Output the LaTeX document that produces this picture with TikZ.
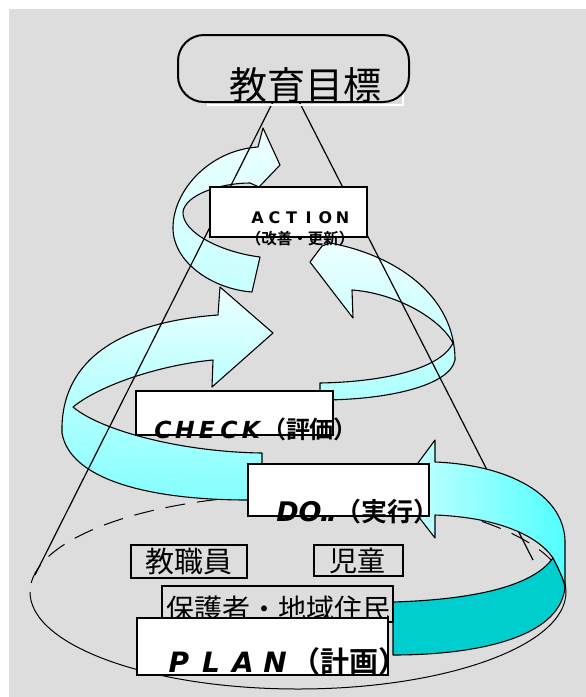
\documentclass[tikz,border=0pt]{standalone}
\usepackage{fontspec}
\newfontfamily\jp{Noto Sans CJK JP}
\newfontfamily\jpb{Noto Sans CJK JP Bold}
\newfontfamily\lat{DejaVu Sans}
\newcommand\cbx[2]{\makebox[#1][c]{#2}}
\definecolor{bggrey}{RGB}{221,221,221}
\definecolor{teal2}{RGB}{0,206,206}
\begin{document}
\begin{tikzpicture}[x=1pt,y=-1pt,
  band/.style={draw=black, line width=1.1pt, line join=round},
  wbox/.style={draw=black, line width=2.2pt, fill=white, inner sep=0pt},
  gbox/.style={draw=black, line width=1.4pt, inner sep=0pt},
  lbl/.style={inner sep=0pt, font=\jp},
  conel/.style={line width=1.2pt}]
\useasboundingbox (0,0) rectangle (586,697);
\fill[bggrey] (9,9) rectangle (586,697);

% base ellipse
\coordinate (ell) at (298,592);
\draw[line width=1pt] (30,592) arc[start angle=180, end angle=360, x radius=268pt, y radius=97pt];
\draw[line width=1pt, dash pattern=on 20pt off 12pt] (566,592) arc[start angle=0, end angle=180, x radius=268pt, y radius=97pt];

% band 1 (top hook, ACTION)
\path[band, top color=cyan!7, bottom color=cyan!22]
  (258,147) -- (263,128) -- (280,165) -- (259,187) -- (250,183)
  .. controls (220,183) and (185,195) .. (183,212)
  .. controls (182,232) and (220,252) .. (260,257)
  -- (252,292)
  .. controls (212,289) and (173,262) .. (173,228)
  .. controls (173,190) and (210,150) .. (258,147) -- cycle;

% band 2 (right loop under ACTION)
\path[band, top color=cyan!7, bottom color=cyan!32]
  (330,243) -- (322,246) -- (310,262) -- (353,318) -- (352,290)
  .. controls (395,293) and (440,318) .. (453,343)
  .. controls (440,370) and (380,382) .. (320,383)
  -- (320,400)
  .. controls (390,400) and (450,385) .. (455,360)
  .. controls (455,295) and (395,255) .. (330,243) -- cycle;

% band 3 (left loop, CHECK)
\path[band, top color=cyan!7, bottom color=cyan!48]
  (218,315) -- (220,287) -- (273,333) -- (212,387) -- (213,360)
  .. controls (160,365) and (100,385) .. (73,407)
  .. controls (100,430) and (180,452) .. (262,453)
  -- (262,500) -- (248,500)
  .. controls (150,500) and (70,480) .. (62,433)
  .. controls (60,360) and (120,322) .. (218,315) -- cycle;

% cone lines
\coordinate (apex) at (286,76);
\coordinate (cl) at (35,575);
\coordinate (cr) at (533,560);
\draw[conel] (apex) -- (cl);
\draw[conel] (apex) -- (cr);

% band 4 (DO, right and bottom)
\path[band, left color=cyan!20, right color=cyan!68]
  (435,462) -- (435,440) -- (398,490) -- (435,538) -- (435,515)
  .. controls (490,517) and (535,532) .. (553,558)
  .. controls (558,568) and (563,578) .. (565,587)
  -- (565,540)
  .. controls (563,495) and (510,465) .. (435,462) -- cycle;
\path[band, fill=teal2]
  (553,558) .. controls (530,590) and (460,600) .. (393,602)
  -- (393,655)
  .. controls (470,655) and (560,640) .. (565,587)
  .. controls (563,578) and (558,568) .. (553,558) -- cycle;

% top goal box
\draw[white, line width=1.6pt] (208,55) rectangle (403,105);
\node[draw=black, fill=bggrey, line width=2pt, rounded corners=26pt,
      minimum width=231pt, minimum height=67pt, inner sep=0pt] (goal) at (293.5,68.5) {};
\node[lbl, font=\jp\fontsize{38}{40}\selectfont] (goaltxt) at (305,85) {教育目標};

% ACTION
\node[wbox, minimum width=157pt, minimum height=50pt] (actbox) at (288.5,212) {};
\node[lbl, anchor=base, font=\lat\bfseries\fontsize{16}{18}\selectfont] (acttxt) at (300,223)
  {\cbx{17pt}{A}\cbx{17pt}{C}\cbx{17pt}{T}\cbx{17pt}{I}\cbx{17pt}{O}\cbx{17pt}{N}};
\node[lbl, anchor=base, font=\jpb\fontsize{15.5}{17}\selectfont] (actsub) at (300,244) {（改善・更新）};

% CHECK
\node[wbox, minimum width=197pt, minimum height=44pt] (chkbox) at (234.5,413) {};
\node[lbl, anchor=base] (chktxt) at (255,438)
  {{\lat\bfseries\itshape\fontsize{23.5}{25}\selectfont\cbx{22pt}{C}\cbx{22pt}{H}\cbx{22pt}{E}\cbx{22pt}{C}\cbx{22pt}{K}}{\jpb\fontsize{24}{26}\selectfont （評価）}};

% DO
\node[wbox, minimum width=181pt, minimum height=52pt] (dobox) at (338.5,490) {};
\node[lbl, anchor=base] (dotxt) at (358,521)
  {{\lat\bfseries\itshape\fontsize{27}{29}\selectfont\cbx{22pt}{D}\cbx{23pt}{O}\cbx{7pt}{.}\cbx{7pt}{.}}{\jpb\fontsize{26}{28}\selectfont （実行）}};

% participants
\node[gbox, minimum width=116pt, minimum height=33pt] (kbox) at (189,561.5) {};
\node[lbl, font=\jp\fontsize{29}{31}\selectfont] (ktxt) at (189,562) {教職員};
\node[gbox, minimum width=89pt, minimum height=31pt] (jbox) at (358.5,560.5) {};
\node[lbl, font=\jp\fontsize{28}{30}\selectfont] (jtxt) at (357,561) {児童};
\node[gbox, line width=1.8pt, minimum width=231pt, minimum height=36pt] (hbox) at (277.5,604) {};
\node[lbl, font=\jp\fontsize{28}{30}\selectfont] (htxt) at (278,609) {保護者・地域住民};

% PLAN
\node[wbox, minimum width=251pt, minimum height=57pt] (planbox) at (262.5,646.5) {};
\node[lbl, anchor=base] (plantxt) at (285,672)
  {{\lat\bfseries\itshape\fontsize{28}{30}\selectfont\cbx{32pt}{P}\cbx{32pt}{L}\cbx{32pt}{A}\cbx{32pt}{N}}{\jpb\fontsize{29}{31}\selectfont （計画）}};
\end{tikzpicture}
\end{document}
